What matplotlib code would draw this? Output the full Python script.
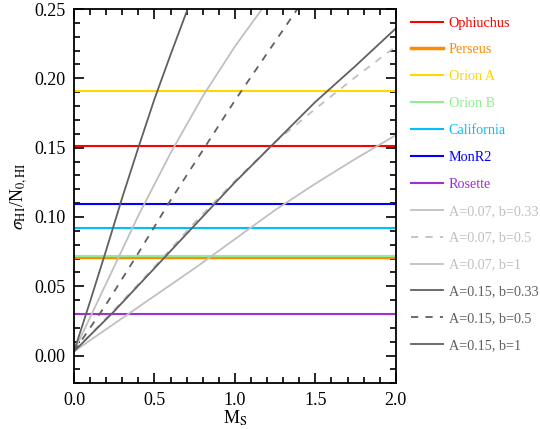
import numpy as np
import matplotlib
matplotlib.use("Agg")
import matplotlib.pyplot as plt
from matplotlib.ticker import MultipleLocator

plt.rcParams['font.family'] = ['Liberation Serif', 'DejaVu Serif']
plt.rcParams['mathtext.fontset'] = 'stix'

# observed clouds (horizontal levels)
clouds = ['Ophiuchus', 'Perseus', 'Orion A', 'Orion B', 'California', 'MonR2', 'Rosette']
cloud_vals = [0.151, 0.071, 0.191, 0.072, 0.092, 0.109, 0.030]
cloud_cols = ['#ff0000', '#ff8c00', '#ffd700', '#90ee90', '#00bfff', '#0000ff', '#a030d0']
cloud_lw = [1.5, 2.5, 1.5, 1.5, 1.5, 1.5, 1.5]

# model curves
ms_a07_b033 = [0.0, 0.25, 0.5, 0.75, 1.0, 1.25, 1.5, 1.75, 2.0]
sig_a07_b033 = [0.003, 0.023, 0.043, 0.063, 0.084, 0.105, 0.124, 0.142, 0.159]
ms_a07_b05 = [0.0, 0.25, 0.5, 0.75, 1.0, 1.25, 1.5, 1.75, 2.0]
sig_a07_b05 = [0.003, 0.033, 0.064, 0.096, 0.126, 0.154, 0.178, 0.201, 0.223]
ms_a07_b1 = [0.0, 0.2, 0.4, 0.6, 0.8, 1.0, 1.2, 1.3]
sig_a07_b1 = [0.003, 0.052, 0.101, 0.146, 0.187, 0.223, 0.255, 0.270]
ms_a15_b033 = [0.0, 0.25, 0.5, 0.75, 1.0, 1.25, 1.5, 1.75, 2.0]
sig_a15_b033 = [0.003, 0.032, 0.063, 0.094, 0.125, 0.154, 0.183, 0.209, 0.236]
ms_a15_b05 = [0.0, 0.2, 0.4, 0.6, 0.8, 1.0, 1.2, 1.4, 1.5]
sig_a15_b05 = [0.003, 0.037, 0.074, 0.112, 0.148, 0.184, 0.218, 0.252, 0.268]
ms_a15_b1 = [0.0, 0.1, 0.2, 0.3, 0.4, 0.5, 0.6, 0.7, 0.8]
sig_a15_b1 = [0.003, 0.039, 0.076, 0.114, 0.150, 0.185, 0.217, 0.248, 0.278]

light = '#c0c0c0'
dark = '#606060'
models = [
    (ms_a07_b033, sig_a07_b033, light, '-', 'A=0.07, b=0.33'),
    (ms_a07_b05, sig_a07_b05, light, '--', 'A=0.07, b=0.5'),
    (ms_a07_b1, sig_a07_b1, light, '-', 'A=0.07, b=1'),
    (ms_a15_b033, sig_a15_b033, dark, '-', 'A=0.15, b=0.33'),
    (ms_a15_b05, sig_a15_b05, dark, '--', 'A=0.15, b=0.5'),
    (ms_a15_b1, sig_a15_b1, dark, '-', 'A=0.15, b=1'),
]

fig = plt.figure(figsize=(5.4, 4.29), dpi=100)
ax = fig.add_axes([0.137, 0.1065, 0.596, 0.8725])

for name, v, c, lw in zip(clouds, cloud_vals, cloud_cols, cloud_lw):
    ax.axhline(v, color=c, lw=lw, label=name)

for x, y, c, ls, lab in models:
    ax.plot(x, y, color=c, ls=ls, lw=1.3, label=lab, dashes=(4, 4) if ls == '--' else (None, None))

ax.set_xlim(0, 2.0)
ax.set_ylim(-0.02, 0.25)
ax.xaxis.set_major_locator(MultipleLocator(0.5))
ax.xaxis.set_minor_locator(MultipleLocator(0.1))
ax.yaxis.set_major_locator(MultipleLocator(0.05))
ax.yaxis.set_minor_locator(MultipleLocator(0.01))
ax.xaxis.set_major_formatter(matplotlib.ticker.FormatStrFormatter('%.1f'))
ax.yaxis.set_major_formatter(matplotlib.ticker.FormatStrFormatter('%.2f'))
ax.tick_params(which='both', direction='in', top=True, right=True, labelsize=13, width=1.2)
ax.tick_params(which='major', length=7, pad=6)
ax.tick_params(which='minor', length=4)
for s in ax.spines.values():
    s.set_linewidth(1.3)

ax.set_xlabel(r'M$_\mathrm{S}$', fontsize=13, labelpad=0)
ax.set_ylabel(r'$\sigma_\mathrm{HI}$/N$_\mathrm{0,HI}$', fontsize=13, labelpad=4)

leg = ax.legend(loc='upper left', bbox_to_anchor=(1.03, 0.995), frameon=False,
                fontsize=10.2, labelcolor='linecolor', handlelength=2.25,
                handletextpad=0.4, labelspacing=0.98, borderaxespad=0)

fig.savefig('out.png', dpi=100)
